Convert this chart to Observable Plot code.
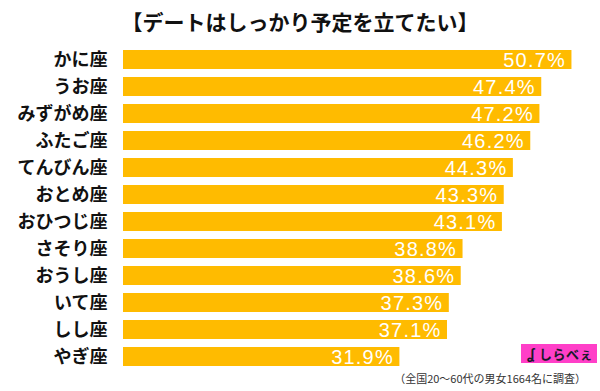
<!DOCTYPE html>
<html>
<head>
<meta charset="utf-8">
<script src="https://cdn.jsdelivr.net/npm/d3@7"></script>
<script src="https://cdn.jsdelivr.net/npm/@observablehq/plot@0.6"></script>
<style>
  html, body { margin: 0; padding: 0; background: #fff; }
  #wrap { position: relative; width: 600px; height: 391px; overflow: hidden; font-family: "Noto Sans CJK JP", sans-serif; }
  #title { height: 34px; padding-top: 8px; box-sizing: border-box; line-height: 26px; text-align: center; font-size: 21px; font-weight: bold; color: #111; }
  #chart svg g[fill="white"] text { letter-spacing: 1.2px; }
  #logo { position: absolute; left: 521px; top: 344px; width: 76px; height: 19px; background: #ff3fc8; color: #1a1a2a; font-size: 13px; font-weight: bold; line-height: 19px; box-sizing: border-box; padding-left: 6px; letter-spacing: 0.5px; white-space: nowrap; }
  #logo .ic { font-size: 14px; margin-right: 4px; }
  #caption { position: absolute; right: 14px; top: 370px; font-size: 11px; color: #333; line-height: 16px; white-space: nowrap; }
</style>
</head>
<body>
<div id="wrap">
  <div id="title">【デートはしっかり予定を立てたい】</div>
  <div id="chart"></div>
  <div id="logo"><span class="ic">ʆ</span>しらべぇ</div>
  <div id="caption">（全国20〜60代の男女1664名に調査）</div>
</div>
<script>
const names = ["かに座","うお座","みずがめ座","ふたご座","てんびん座","おとめ座","おひつじ座","さそり座","おうし座","いて座","しし座","やぎ座"];
const values = [50.7, 47.4, 47.2, 46.2, 44.3, 43.3, 43.1, 38.8, 38.6, 37.3, 37.1, 31.9];
const data = names.map((n, i) => ({name: n, value: values[i]}));

const chart = Plot.plot({
  width: 600,
  height: 357,
  marginTop: 2.4,
  marginBottom: 11.9,
  marginLeft: 123,
  marginRight: 7.5,
  style: {fontFamily: "Noto Sans CJK JP, sans-serif", background: "#fff"},
  x: {domain: [1.7, 53], clamp: true, axis: null},
  y: {domain: names, padding: 0.283, axis: null},
  marks: [
    Plot.barX(data, {x: "value", y: "name", fill: "#ffbb00"}),
    Plot.text(data, {x: "value", y: "name", text: d => d.value.toFixed(1) + "%", textAnchor: "end", dx: -6, dy: 1, fill: "white", fontSize: 20, fontFamily: "Liberation Sans, Arial, sans-serif"}),
    Plot.axisY({tickSize: 0, tickPadding: 16, fontSize: 18, fontWeight: "bold", fill: "#111", label: null})
  ]
});
document.getElementById("chart").appendChild(chart);
</script>
</body>
</html>
